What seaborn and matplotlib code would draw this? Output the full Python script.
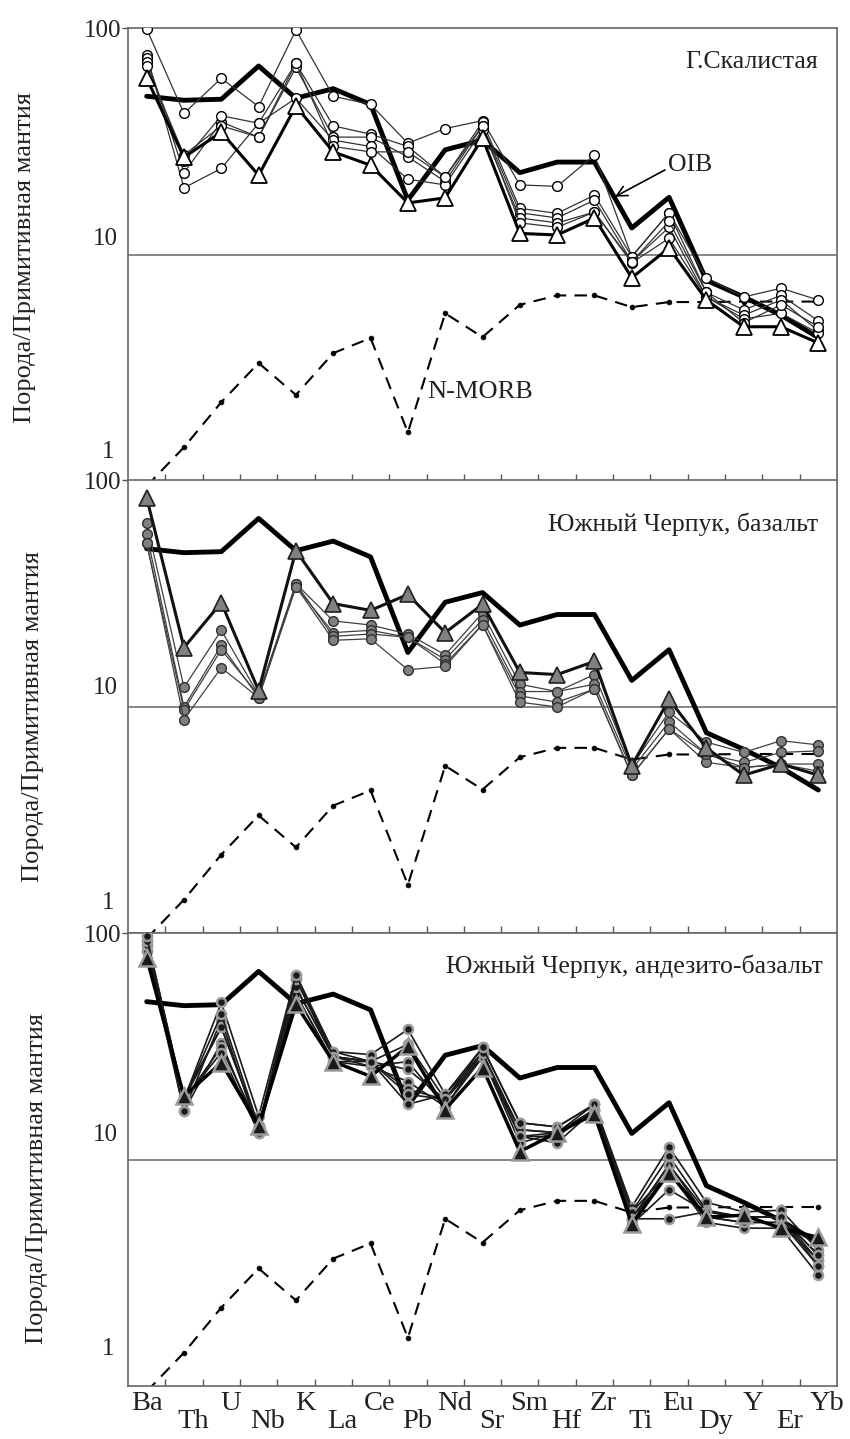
import numpy as np
import matplotlib
matplotlib.use("Agg")
import matplotlib.pyplot as plt
import matplotlib.transforms as mtransforms
from matplotlib.ticker import NullLocator
import seaborn as sns

# Elements (spider diagram, normalised to primitive mantle)
elements = ["Ba", "Th", "U", "Nb", "K", "La", "Ce", "Pb", "Nd", "Sr",
            "Sm", "Hf", "Zr", "Ti", "Eu", "Dy", "Y", "Er", "Yb"]

# Reference compositions
oib = [50, 48, 48.5, 68, 49, 54, 46, 17.4, 29, 32, 23, 25.6, 25.6, 13.1, 17.9, 7.7, 6.5, 5.4, 4.3]
nmorb = [0.95, 1.41, 2.23, 3.32, 2.40, 3.67, 4.28, 1.64, 5.5, 4.32, 6.0, 6.6, 6.6, 5.86, 6.17, 6.17, 6.2, 6.2, 6.2]

# Г.Скалистая
skal_tri = [60, 26.9, 34.7, 22.4, 45.3, 28.4, 24.8, 16.9, 17.8, 32.7, 12.4, 12.2, 14.5, 7.9, 10.7, 6.3, 4.8, 4.8, 4.07]
skal_a = [99, 42, 60, 45, 98, 50, 46, 31, 36, 39, 20.3, 20, 27.5, 9.8, 15.3, 7.9, 6.5, 7.1, 6.3]
skal_b = [76, 19.7, 24, 38, 70, 37, 34, 30, 22, 38.5, 16, 15.2, 18.3, 9.8, 15.3, 6.8, 5.7, 6.6, 5.1]
skal_c = [74, 23, 38.5, 33, 67, 33, 33, 27, 21, 37, 15.3, 14.5, 17.4, 9.3, 13.2, 6.5, 5.4, 6.3, 4.6]
skal_d = [71, 26, 41, 38, 49, 32, 30, 21.5, 20.3, 35.5, 14.5, 13.8, 15.4, 9.2, 11.8, 6.5, 5.2, 5.5, 4.5]
skal_e = [68, 27.5, 37, 33, 70, 30, 28.4, 28.4, 22, 37, 13.8, 13.2, 15.4, 9.3, 14, 6.8, 5.0, 6.0, 4.8]

# Южный Черпук, базальт
basalt_tri = [84, 18.3, 28.9, 11.8, 49, 28.6, 26.7, 31.4, 21.3, 28.4, 14.2, 13.9, 15.9, 5.5, 10.8, 6.6, 5.0, 5.6, 5.0]
basalt_a = [65, 12.2, 21.8, 11.3, 35, 24, 23, 21, 17, 26, 12.6, 11.7, 13.9, 5.5, 9.5, 7.0, 6.3, 7.1, 6.8]
basalt_b = [58, 10.0, 18.7, 11.0, 34, 21.3, 21.8, 20.3, 16.2, 24.3, 11.7, 11.7, 12.6, 5.3, 8.6, 6.2, 5.7, 6.3, 6.4]
basalt_c = [53, 9.7, 17.9, 11.3, 35, 20.5, 21, 20.3, 15.5, 23.1, 11.2, 10.5, 12.0, 5.0, 8.0, 5.7, 5.4, 5.6, 5.6]
basalt_d = [53, 8.8, 14.9, 11.0, 34, 19.7, 20, 14.6, 15.1, 23.1, 10.5, 10.0, 12.0, 5.0, 8.0, 6.2, 5.4, 5.6, 5.2]

# Южный Черпук, андезито-базальт
andes_tri = [78, 19.1, 26.9, 14.1, 48.6, 27.2, 23.4, 31.7, 16.7, 25.6, 10.9, 13.2, 15.9, 5.2, 8.8, 5.6, 5.7, 5.0, 4.55]
andes_1 = [97, 18.5, 49.6, 15.6, 65.9, 30.1, 29.2, 37.7, 19.5, 31.4, 14.6, 14.0, 17.6, 6.2, 11.4, 6.5, 5.9, 6.0, 4.0]
andes_2 = [93, 16.4, 41.7, 13.2, 62.7, 28.6, 27.2, 32.4, 18.5, 29.8, 13.6, 13.2, 16.7, 5.9, 10.4, 6.0, 5.6, 5.6, 3.6]
andes_3 = [89, 18.5, 38.5, 14.1, 57.8, 28.6, 25.9, 27.2, 17.2, 28.4, 12.7, 11.9, 16.7, 5.5, 9.55, 5.6, 5.3, 5.3, 3.4]
andes_4 = [84, 16.4, 33.0, 13.2, 53.8, 27.2, 27.2, 25.1, 18.5, 28.4, 11.9, 13.2, 15.9, 5.5, 8.8, 5.3, 5.0, 5.0, 3.1]
andes_5 = [84, 18.5, 31.4, 14.1, 53.8, 27.2, 25.9, 22.2, 17.2, 29.8, 12.7, 12.7, 16.7, 5.2, 7.4, 5.9, 5.6, 5.6, 3.8]
andes_6 = [89, 18.5, 29.8, 13.2, 57.8, 28.6, 27.2, 20.5, 18.5, 28.4, 13.6, 13.2, 17.6, 5.9, 8.8, 5.6, 5.3, 5.3, 3.6]
andes_7 = [93, 19.1, 38.5, 14.1, 62.7, 30.1, 27.2, 17.6, 19.5, 29.8, 12.7, 13.2, 16.7, 5.5, 5.5, 5.9, 5.6, 5.6, 3.8]
andes_8 = [97, 18.5, 44, 14.1, 65.9, 28.6, 27.2, 19.5, 18.5, 31.4, 14.6, 14.0, 17.6, 5.5, 9.5, 5.9, 5.6, 5.6, 3.4]

titles = ["Г.Скалистая", "Южный Черпук, базальт", "Южный Черпук, андезито-базальт"]
ylabel = "Порода/Примитивная мантия"

sns.set_style("white")
plt.rcParams["font.family"] = ["Liberation Serif", "DejaVu Serif"]
plt.rcParams["text.color"] = "#222222"
plt.rcParams["xtick.color"] = "#222222"
plt.rcParams["ytick.color"] = "#222222"

pos = np.arange(len(elements))
fig = plt.figure(figsize=(8.5, 14.39), dpi=100)

# panel layout: [left, bottom, width, height]
bottoms = [0.6657, 0.3513, 0.0365]
axes = [fig.add_axes([0.1506, b, 0.8341, 0.3148]) for b in bottoms]

# per-panel marker styles
styles = [
    dict(circ=dict(mfc="white", mec="black", mew=1.0, ms=7, lc="#333333", lw=0.9),
         tri=dict(mfc="white", mec="black", mew=1.3, ms=12, lc="black", lw=2.2)),
    dict(circ=dict(mfc="#808080", mec="#303030", mew=1.0, ms=7, lc="#404040", lw=0.9),
         tri=dict(mfc="#808080", mec="#202020", mew=1.2, ms=12, lc="#111111", lw=2.2)),
    dict(circ=dict(mfc="#1a1a1a", mec="#9a9a9a", mew=1.8, ms=6.5, lc="#1a1a1a", lw=1.2),
         tri=dict(mfc="#1a1a1a", mec="#9a9a9a", mew=1.8, ms=11, lc="black", lw=2.5)),
]
samples = [
    ([skal_a, skal_b, skal_c, skal_d, skal_e], skal_tri),
    ([basalt_a, basalt_b, basalt_c, basalt_d], basalt_tri),
    ([andes_1, andes_2, andes_3, andes_4, andes_5, andes_6, andes_7, andes_8], andes_tri),
]
ylabel_xy = [(-0.145, 0.494), (-0.134, 0.479), (-0.128, 0.459)]
title_xy = [(0.973, 0.925), (0.973, 0.903), (0.980, 0.927)]
label_up = [(11.5, 21), (14, 22), (18, 27)]


def draw_series(ax, vals, st, marker, z):
    sns.lineplot(x=pos, y=vals, ax=ax, sort=False, estimator=None, legend=False,
                 color=st["lc"], linewidth=st["lw"], marker=marker,
                 markersize=st["ms"], markerfacecolor=st["mfc"],
                 markeredgecolor=st["mec"], markeredgewidth=st["mew"], zorder=z)


for i, ax in enumerate(axes):
    ax.set_yscale("log")
    ax.axhline(10, color="#666666", lw=1.1, zorder=1)

    sns.lineplot(x=pos, y=oib, ax=ax, sort=False, estimator=None, legend=False,
                 color="black", linewidth=3.5, zorder=2)
    sns.lineplot(x=pos, y=nmorb, ax=ax, sort=False, estimator=None, legend=False,
                 color="black", linewidth=1.5, linestyle=(0, (6, 4)), marker="o",
                 markersize=3.5, markerfacecolor="black", markeredgecolor="black",
                 markeredgewidth=0.5, zorder=2)

    circles, tri = samples[i]
    for s in circles:
        draw_series(ax, s, styles[i]["circ"], "o", 3)
    draw_series(ax, tri, styles[i]["tri"], "^", 4)

    ax.set_xlim(-0.5, 18.5)
    ax.set_ylim(1, 100)
    ax.set_xlabel("")
    ax.set_ylabel("")

    ax.set_yticks([100], ["100"])
    ax.yaxis.set_minor_locator(NullLocator())
    ax.tick_params(axis="y", which="major", direction="out", length=4, width=1,
                   pad=1, labelsize=18, color="#555555", left=True)
    for txt, val, dx, dy in [("10", 10, -7, label_up[i][0]), ("1", 1, -10, label_up[i][1])]:
        ax.annotate(txt, xy=(0, val), xycoords=ax.get_yaxis_transform(),
                    xytext=(dx, dy), textcoords="offset points",
                    ha="right", va="center", fontsize=18)

    ax.set_xticks(pos)
    ax.set_xticks(pos[:-1] + 0.5, minor=True)
    ax.tick_params(axis="x", which="major", length=0, labelsize=20.5,
                   labelbottom=(i == 2), pad=3)
    ax.tick_params(axis="x", which="minor", direction="in", length=5, width=1,
                   color="#555555", bottom=True, top=False)
    if i == 2:
        ax.set_xticklabels(elements)
    else:
        ax.set_xticklabels([])

    for sp in ax.spines.values():
        sp.set_color("#666666")
        sp.set_linewidth(1.2)

    ax.text(ylabel_xy[i][0], ylabel_xy[i][1], ylabel, rotation=90, ha="center",
            va="center", fontsize=19, transform=ax.transAxes)
    ax.text(title_xy[i][0], title_xy[i][1], titles[i], ha="right", va="center",
            fontsize=18.5, transform=ax.transAxes)

# staggered element labels
shift = mtransforms.ScaledTranslation(6.5 / 72, 0, fig.dpi_scale_trans)
for j, tick in enumerate(axes[2].xaxis.get_major_ticks()):
    tick.set_pad(3 if j % 2 == 0 else 16)
    if j > 0:
        tick.label1.set_transform(tick.label1.get_transform() + shift)

# OIB and N-MORB labels (top panel)
axes[0].annotate("OIB", xy=(12.55, 18), xycoords="data",
                 xytext=(0.762, 0.698), textcoords="axes fraction",
                 ha="left", va="center", fontsize=18.5,
                 arrowprops=dict(arrowstyle="->", color="black", lw=1.2,
                                 shrinkA=0, shrinkB=0, relpos=(0, 0.35)))
axes[0].text(0.422, 0.196, "N-MORB", ha="left", va="center", fontsize=19,
             transform=axes[0].transAxes)

fig.savefig("out.png", dpi=100)
plt.close(fig)
